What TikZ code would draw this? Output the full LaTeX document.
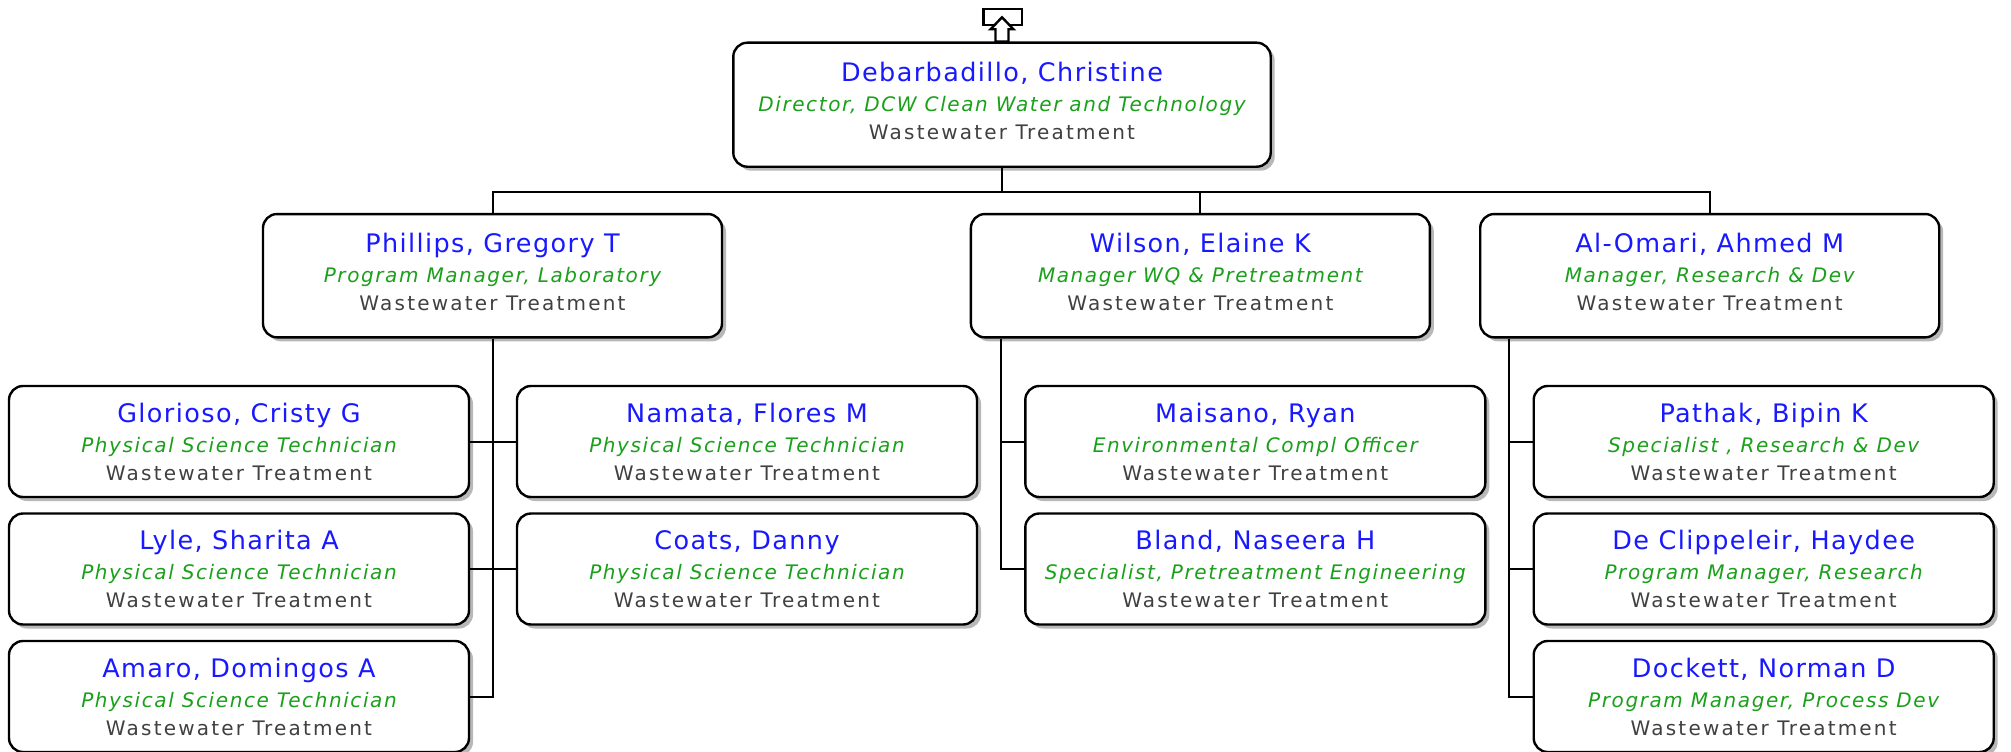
\documentclass[tikz,border=0pt]{standalone}
\usepackage{fontspec}
\setmainfont{DejaVu Sans}
\newfontfamily\namefont[LetterSpace=5.5]{DejaVu Sans}
\newfontfamily\rolefont[LetterSpace=8]{DejaVu Sans}
\newfontfamily\deptfont[LetterSpace=11]{DejaVu Sans}
\usepackage{xcolor}
\usepackage{tikz}
\usetikzlibrary{shadows}
\definecolor{namecol}{RGB}{25,25,255}
\definecolor{rolecol}{RGB}{26,160,26}
\definecolor{deptcol}{RGB}{64,64,64}
% three text lines of one card
\newcommand{\who}[2]{{\namefont\fontsize{25.5}{28}\selectfont\color{namecol}#1}\\[2pt]
  {\rolefont\itshape\color{rolecol}#2}\\
  {\deptfont\color{deptcol}Wastewater Treatment}}

\begin{document}
\begin{tikzpicture}[x=1pt, y=-1pt,
  staff/.style={draw, line width=2.4pt, fill=white, rounded corners=14pt,
    drop shadow={shadow xshift=4pt, shadow yshift=-4pt, fill=black!28, opacity=1},
    minimum width=460pt, minimum height=111pt, inner sep=0pt, align=center,
    font=\fontsize{20}{28}\selectfont},
  lead/.style={staff, minimum width=459pt, minimum height=123.3pt, text depth=8pt},
  link/.style={line width=2pt}]
\useasboundingbox (0,0) rectangle (2011,752);
% director and the up icon
\node[lead, minimum width=537.4pt, minimum height=124pt] (dir) at (1002,104.7)
  {\who{Debarbadillo, Christine}{Director, DCW Clean Water and Technology}};
\draw[line width=2.4pt, fill=white] (983.3,9.3) rectangle (1021.7,25);
\draw[line width=2.4pt, fill=white] (1002,17.3) -- (990.5,29.3) -- (995.5,29.3)
  -- (995.5,41.7) -- (1008.5,41.7) -- (1008.5,29.3) -- (1013.5,29.3) -- cycle;
% managers
\node[lead] (phi) at (492.5,275.7) {\who{Phillips, Gregory T}{Program Manager, Laboratory}};
\node[lead] (wil) at (1200.4,275.7) {\who{Wilson, Elaine K}{Manager WQ \& Pretreatment}};
\node[lead] (alo) at (1709.7,275.7) {\who{Al-Omari, Ahmed M}{Manager, Research \& Dev}};
% laboratory
\node[staff] (glo) at (239,441.5) {\who{Glorioso, Cristy G}{Physical Science Technician}};
\node[staff] (nam) at (747,441.5) {\who{Namata, Flores M}{Physical Science Technician}};
\node[staff] (lyl) at (239,569) {\who{Lyle, Sharita A}{Physical Science Technician}};
\node[staff] (coa) at (747,569) {\who{Coats, Danny}{Physical Science Technician}};
\node[staff] (ama) at (239,696.5) {\who{Amaro, Domingos A}{Physical Science Technician}};
% WQ and pretreatment
\node[staff] (mai) at (1255.3,441.5) {\who{Maisano, Ryan}{Environmental Compl Officer}};
\node[staff] (bla) at (1255.3,569) {\who{Bland, Naseera H}{Specialist, Pretreatment Engineering}};
% research
\node[staff] (pat) at (1763.7,441.5) {\who{Pathak, Bipin K}{Specialist , Research \& Dev}};
\node[staff] (dec) at (1763.7,569) {\who{De Clippeleir, Haydee}{Program Manager, Research}};
\node[staff] (doc) at (1763.7,696.5) {\who{Dockett, Norman D}{Program Manager, Process Dev}};
% connectors
\draw[link] (dir.south) -- ++(0,24) -| (phi.north);
\draw[link] (dir.south) -- ++(0,24) -| (wil.north);
\draw[link] (dir.south) -- ++(0,24) -| (alo.north);
\draw[link] (phi.south) |- (ama.east);
\draw[link] (glo.east) -- (nam.west);
\draw[link] (lyl.east) -- (coa.west);
\draw[link] ([xshift=31pt]wil.south west) |- (mai.west);
\draw[link] ([xshift=31pt]wil.south west) |- (bla.west);
\draw[link] ([xshift=30pt]alo.south west) |- (pat.west);
\draw[link] ([xshift=30pt]alo.south west) |- (dec.west);
\draw[link] ([xshift=30pt]alo.south west) |- (doc.west);
\end{tikzpicture}
\end{document}
